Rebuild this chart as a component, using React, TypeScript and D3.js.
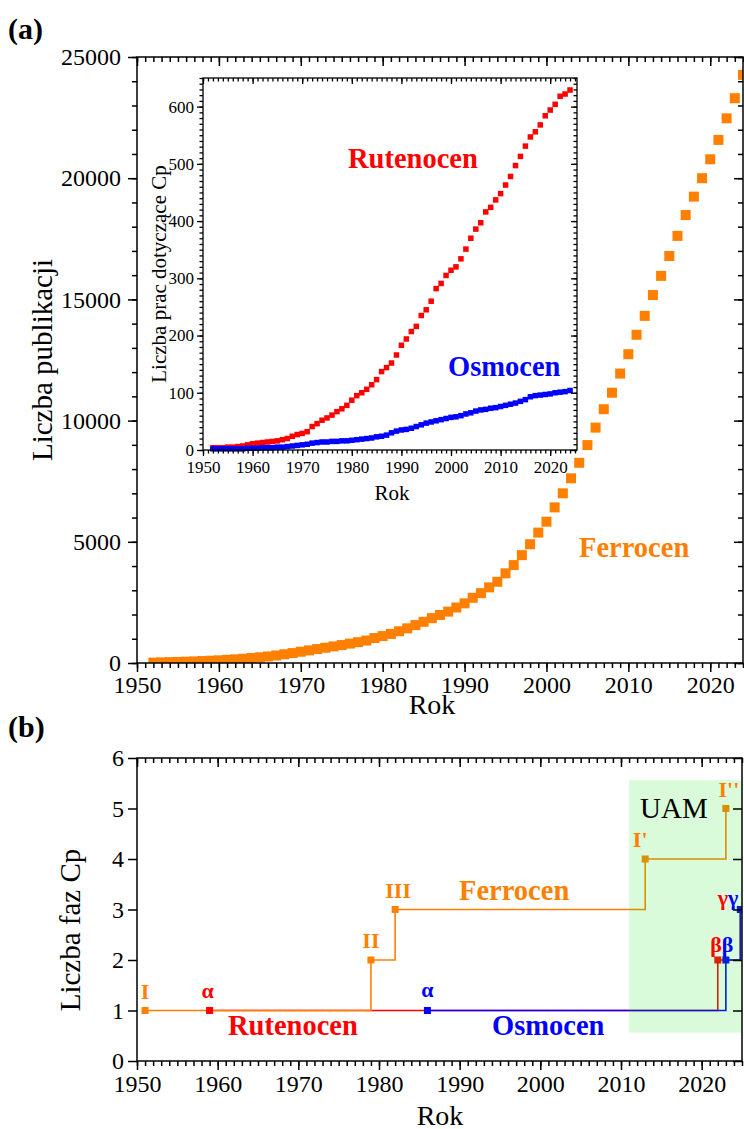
import React, { useEffect, useRef } from 'react';
import * as d3 from 'd3';

const FONT = '"Liberation Serif", "Times New Roman", serif';
const ORANGE = '#FF8000';
const RED = '#FF0000';
const BLUE = '#0000FF';

// Years covered by the publication counts (panel a and inset)
const years = [
  1952, 1953, 1954, 1955, 1956, 1957, 1958, 1959, 1960, 1961, 1962, 1963, 1964, 1965, 1966, 1967, 1968, 1969,
  1970, 1971, 1972, 1973, 1974, 1975, 1976, 1977, 1978, 1979, 1980, 1981, 1982, 1983, 1984, 1985, 1986, 1987,
  1988, 1989, 1990, 1991, 1992, 1993, 1994, 1995, 1996, 1997, 1998, 1999, 2000, 2001, 2002, 2003, 2004, 2005,
  2006, 2007, 2008, 2009, 2010, 2011, 2012, 2013, 2014, 2015, 2016, 2017, 2018, 2019, 2020, 2021, 2022, 2023,
  2024,
];

// Cumulative number of publications on ferrocene
const ferrocenPubs = [
  15, 25, 35, 45, 55, 65, 80, 95, 110, 130, 150, 175, 205, 235, 270, 310, 360, 410,
  465, 520, 575, 630, 685, 740, 800, 860, 925, 1030, 1110, 1200, 1310, 1430, 1565, 1700, 1850, 1980,
  2120, 2290, 2460, 2690, 2880, 3120, 3350, 3700, 4040, 4450, 4900, 5380, 5830, 6420, 7000, 7620, 8260, 8990,
  9710, 10470, 11150, 11940, 12740, 13540, 14320, 15180, 15970, 16790, 17620, 18480, 19240, 20000, 20780, 21580, 22470, 23300,
  24260,
];

// Cumulative number of papers on ruthenocene crystal structures
const rutenocenPubs = [
  4, 4, 4, 5, 5, 6, 7, 9, 11, 12, 13, 14, 15, 16, 18, 20, 24, 27,
  29, 32, 41, 46, 52, 56, 61, 67, 72, 78, 87, 95, 100, 106, 114, 123, 137, 144,
  152, 166, 183, 194, 207, 216, 235, 245, 260, 282, 291, 305, 314, 320, 334, 351, 370, 386,
  397, 416, 424, 437, 448, 463, 478, 497, 513, 531, 547, 556, 568, 584, 594, 604, 618, 622,
  629,
];

// Cumulative number of papers on osmocene crystal structures
const osmocenPubs = [
  2, 2, 2, 2, 2, 2, 2, 3, 3, 3, 4, 4, 4, 5, 5, 6, 7, 8,
  9, 10, 12, 13, 14, 14, 15, 15, 16, 16, 17, 18, 19, 20, 21, 23, 24, 26,
  30, 33, 35, 36, 38, 41, 44, 47, 49, 51, 53, 55, 57, 58, 60, 63, 65, 68,
  70, 71, 73, 74, 76, 78, 80, 82, 85, 88, 93, 95, 96, 97, 98, 100, 101, 102,
  104,
];

// Panel b: year in which each new crystal phase was reported
const ferrocenPhaseYears = [1951, 1979, 1982, 2013, 2023];
const ferrocenPhaseCounts = [1, 2, 3, 4, 5];
const ferrocenPhaseNames = ['I', 'II', 'III', "I'", "I''"];
const rutenocenPhaseYears = [1959, 2022, 2024.8];
const rutenocenPhaseCounts = [1, 2, 3];
const rutenocenPhaseNames = ['α', 'β', 'γ'];
const osmocenPhaseYears = [1986, 2023, 2024.8];
const osmocenPhaseCounts = [1, 2, 3];
const osmocenPhaseNames = ['α', 'β', 'γ'];
const uamYears = [2011, 2025];
const uamCounts = [0.56, 5.56];

// Tick values
const yearsMinorA = d3.range(1950, 2025, 1);
const yearsMajor = [1950, 1960, 1970, 1980, 1990, 2000, 2010, 2020];
const mainYMajor = [0, 5000, 10000, 15000, 20000, 25000];
const mainYMinor = d3.range(0, 25001, 1000);
const insetYMajor = [0, 100, 200, 300, 400, 500, 600];
const insetYMinor = d3.range(0, 651, 10);
const phaseYMajor = [0, 1, 2, 3, 4, 5, 6];

type FrameCfg = {
  xMinor: number[];
  xMajor: number[];
  yMinor: number[];
  yMajor: number[];
  major: number;
  minor: number;
  xPad: number;
  yPad: number;
  fontSize: number;
  strokeW: number;
};

function drawFrame(g: any, x: any, y: any, c: FrameCfg) {
  const [xl, xr] = x.range();
  const [yb, yt] = y.range();
  const none = () => '';
  const put = (axis: any, tx: number, ty: number) => {
    const a = g.append('g').attr('transform', `translate(${tx},${ty})`).call(axis);
    a.select('.domain').remove();
    a.selectAll('line').attr('stroke', '#000').attr('stroke-width', c.strokeW);
    a.attr('font-family', FONT).attr('font-size', c.fontSize);
    a.selectAll('text').attr('fill', '#000');
  };
  // bottom: outward
  put(d3.axisBottom(x).tickValues(c.xMinor).tickSize(c.minor).tickFormat(none), 0, yb);
  put(d3.axisBottom(x).tickValues(c.xMajor).tickSize(c.major).tickPadding(c.xPad).tickFormat(d3.format('d')), 0, yb);
  // top: inward
  put(d3.axisBottom(x).tickValues(c.xMinor).tickSize(c.minor).tickFormat(none), 0, yt);
  put(d3.axisBottom(x).tickValues(c.xMajor).tickSize(c.major).tickFormat(none), 0, yt);
  // left: outward
  put(d3.axisLeft(y).tickValues(c.yMinor).tickSize(c.minor).tickFormat(none), xl, 0);
  put(d3.axisLeft(y).tickValues(c.yMajor).tickSize(c.major).tickPadding(c.yPad).tickFormat(d3.format('d')), xl, 0);
  // right: inward
  put(d3.axisLeft(y).tickValues(c.yMinor).tickSize(c.minor).tickFormat(none), xr, 0);
  put(d3.axisLeft(y).tickValues(c.yMajor).tickSize(c.major).tickFormat(none), xr, 0);
  g.append('rect')
    .attr('x', xl).attr('y', yt)
    .attr('width', xr - xl).attr('height', yb - yt)
    .attr('fill', 'none').attr('stroke', '#000').attr('stroke-width', c.strokeW);
}

function label(g: any, text: string, x: number, y: number, size: number, color: string, opts: any = {}) {
  const t = g.append('text')
    .attr('x', x).attr('y', y)
    .attr('font-family', FONT)
    .attr('font-size', size)
    .attr('fill', color)
    .attr('font-weight', opts.bold ? 'bold' : 'normal')
    .attr('text-anchor', opts.anchor || 'start')
    .text(text);
  if (opts.rotate) t.attr('transform', `rotate(-90, ${x}, ${y})`);
  return t;
}

// Two-coloured pair label (ruthenocene + osmocene phase names)
function pairLabel(g: any, a: string, b: string, x: number, y: number, size: number, anchor: string) {
  const t = g.append('text')
    .attr('x', x).attr('y', y)
    .attr('font-family', FONT)
    .attr('font-size', size)
    .attr('font-weight', 'bold')
    .attr('text-anchor', anchor);
  t.append('tspan').attr('fill', RED).text(a);
  t.append('tspan').attr('fill', BLUE).text(b);
}

export default function App() {
  const ref = useRef<SVGSVGElement>(null);

  useEffect(() => {
    const svg = d3.select(ref.current);
    svg.selectAll('*').remove();

    svg.append('rect').attr('width', 744).attr('height', 1129).attr('fill', '#fff');

    const defs = svg.append('defs');

    // ---------- Panel (a): ferrocene publications ----------
    const xA = d3.scaleLinear().domain([1950, 2024]).range([137, 743]);
    const yA = d3.scaleLinear().domain([0, 25000]).range([663, 57]);

    defs.append('clipPath').attr('id', 'clipA')
      .append('rect').attr('x', 137).attr('y', 57).attr('width', 606).attr('height', 606);

    const gA = svg.append('g');
    const sA = 10;
    gA.append('g').attr('clip-path', 'url(#clipA)')
      .selectAll('rect')
      .data(years.map((yr, i) => ({ yr, v: ferrocenPubs[i] })))
      .join('rect')
      .attr('x', (d: any) => xA(d.yr) - sA / 2)
      .attr('y', (d: any) => yA(d.v) - sA / 2)
      .attr('width', sA).attr('height', sA)
      .attr('fill', ORANGE);

    drawFrame(gA, xA, yA, {
      xMinor: yearsMinorA, xMajor: yearsMajor, yMinor: mainYMinor, yMajor: mainYMajor,
      major: 9, minor: 5, xPad: 4, yPad: 7, fontSize: 24, strokeW: 1.5,
    });

    label(gA, 'Ferrocen', 579, 557, 28.5, ORANGE, { bold: true });
    label(gA, 'Rok', 432, 714, 28, '#000', { anchor: 'middle' });
    label(gA, 'Liczba publikacji', 52, 360, 29, '#000', { anchor: 'middle', rotate: true });
    label(gA, '(a)', 8, 39, 30, '#000', { bold: true });

    // ---------- Inset: ruthenocene and osmocene ----------
    const xI = d3.scaleLinear().domain([1950, 2025.4]).range([203, 577]);
    const yI = d3.scaleLinear().domain([0, 650]).range([450, 78]);
    const gI = svg.append('g');
    gI.append('rect').attr('x', 203).attr('y', 78).attr('width', 374).attr('height', 372).attr('fill', '#fff');
    const sI = 5.5;
    gI.append('g').selectAll('rect')
      .data(years.map((yr, i) => ({ yr, v: rutenocenPubs[i] })))
      .join('rect')
      .attr('x', (d: any) => xI(d.yr) - sI / 2)
      .attr('y', (d: any) => yI(d.v) - sI / 2)
      .attr('width', sI).attr('height', sI)
      .attr('fill', RED);
    gI.append('g').selectAll('rect')
      .data(years.map((yr, i) => ({ yr, v: osmocenPubs[i] })))
      .join('rect')
      .attr('x', (d: any) => xI(d.yr) - sI / 2)
      .attr('y', (d: any) => yI(d.v) - sI / 2)
      .attr('width', sI).attr('height', sI)
      .attr('fill', BLUE);

    drawFrame(gI, xI, yI, {
      xMinor: yearsMinorA.concat([2025]), xMajor: yearsMajor, yMinor: insetYMinor, yMajor: insetYMajor,
      major: 6, minor: 3.5, xPad: 5, yPad: 3, fontSize: 17, strokeW: 1.3,
    });

    label(gI, 'Rutenocen', 348, 168, 28.5, RED, { bold: true });
    label(gI, 'Osmocen', 448, 376, 28.5, BLUE, { bold: true });
    label(gI, 'Rok', 392, 500, 21, '#000', { anchor: 'middle' });
    label(gI, 'Liczba prac dotyczące Cp', 166, 274, 21, '#000', { anchor: 'middle', rotate: true });

    // ---------- Panel (b): number of known phases ----------
    const xB = d3.scaleLinear().domain([1950, 2025]).range([137, 742]);
    const yB = d3.scaleLinear().domain([0, 6]).range([1061, 758]);
    defs.append('clipPath').attr('id', 'clipB')
      .append('rect').attr('x', 137).attr('y', 758).attr('width', 605).attr('height', 303);

    const gB = svg.append('g');
    const plotB = gB.append('g').attr('clip-path', 'url(#clipB)');
    const stepLine = d3.line<[number, number]>()
      .x((d) => xB(d[0]))
      .y((d) => yB(d[1]))
      .curve(d3.curveStepAfter);
    const pts = (ys: number[], cs: number[]) => ys.map((v, i) => [v, cs[i]] as [number, number]);

    const series = [
      { pts: pts(rutenocenPhaseYears, rutenocenPhaseCounts), color: RED },
      { pts: pts(osmocenPhaseYears, osmocenPhaseCounts), color: BLUE },
      { pts: pts(ferrocenPhaseYears, ferrocenPhaseCounts), color: ORANGE },
    ];
    series.forEach((s) => {
      plotB.append('path').attr('d', stepLine(s.pts)).attr('fill', 'none')
        .attr('stroke', s.color).attr('stroke-width', 1.6);
    });
    const sB = 7;
    series.forEach((s) => {
      plotB.append('g').selectAll('rect').data(s.pts).join('rect')
        .attr('x', (d: any) => xB(d[0]) - sB / 2)
        .attr('y', (d: any) => yB(d[1]) - sB / 2)
        .attr('width', sB).attr('height', sB)
        .attr('fill', s.color);
    });

    // UAM period, translucent green over the steps
    plotB.append('rect')
      .attr('x', xB(uamYears[0])).attr('y', yB(uamCounts[1]))
      .attr('width', xB(uamYears[1]) - xB(uamYears[0]))
      .attr('height', yB(uamCounts[0]) - yB(uamCounts[1]))
      .attr('fill', 'rgb(0,230,0)').attr('fill-opacity', 0.15);

    drawFrame(gB, xB, yB, {
      xMinor: d3.range(1950, 2026, 1), xMajor: yearsMajor, yMinor: [], yMajor: phaseYMajor,
      major: 9, minor: 5, xPad: 5, yPad: 4, fontSize: 24, strokeW: 1.5,
    });

    // phase names
    const phaseFont = 22;
    const shifts: Record<string, number> = { I: 0, II: 0, III: 3, "I'": -5, "I''": 3 };
    ferrocenPhaseYears.forEach((yr, i) => {
      const name = ferrocenPhaseNames[i];
      label(gB, name, xB(yr) + shifts[name], yB(ferrocenPhaseCounts[i]) - 12, phaseFont, ORANGE, { bold: true, anchor: 'middle' });
    });
    label(gB, rutenocenPhaseNames[0], xB(rutenocenPhaseYears[0]) - 2, yB(1) - 13, phaseFont, RED, { bold: true, anchor: 'middle' });
    label(gB, osmocenPhaseNames[0], xB(osmocenPhaseYears[0]), yB(1) - 14, phaseFont, BLUE, { bold: true, anchor: 'middle' });
    const bMid = (xB(rutenocenPhaseYears[1]) + xB(osmocenPhaseYears[1])) / 2;
    pairLabel(gB, rutenocenPhaseNames[1], osmocenPhaseNames[1], bMid, yB(2) - 8, phaseFont, 'middle');
    pairLabel(gB, rutenocenPhaseNames[2], osmocenPhaseNames[2], xB(osmocenPhaseYears[2]) - 2, yB(3) - 5, phaseFont, 'end');

    label(gB, 'UAM', 640, 818, 29, '#000');
    label(gB, 'Ferrocen', 459, 900, 28.5, ORANGE, { bold: true });
    label(gB, 'Rutenocen', 228, 1035, 28.5, RED, { bold: true });
    label(gB, 'Osmocen', 492, 1035, 28.5, BLUE, { bold: true });
    label(gB, 'Rok', 440, 1125, 28, '#000', { anchor: 'middle' });
    label(gB, 'Liczba faz Cp', 80, 930, 29, '#000', { anchor: 'middle', rotate: true });
    label(gB, '(b)', 8, 737, 30, '#000', { bold: true });
  }, []);

  return (
    <svg
      ref={ref}
      width={744}
      height={1129}
      style={{ position: 'absolute', left: 0, top: 0, display: 'block' }}
    />
  );
}
